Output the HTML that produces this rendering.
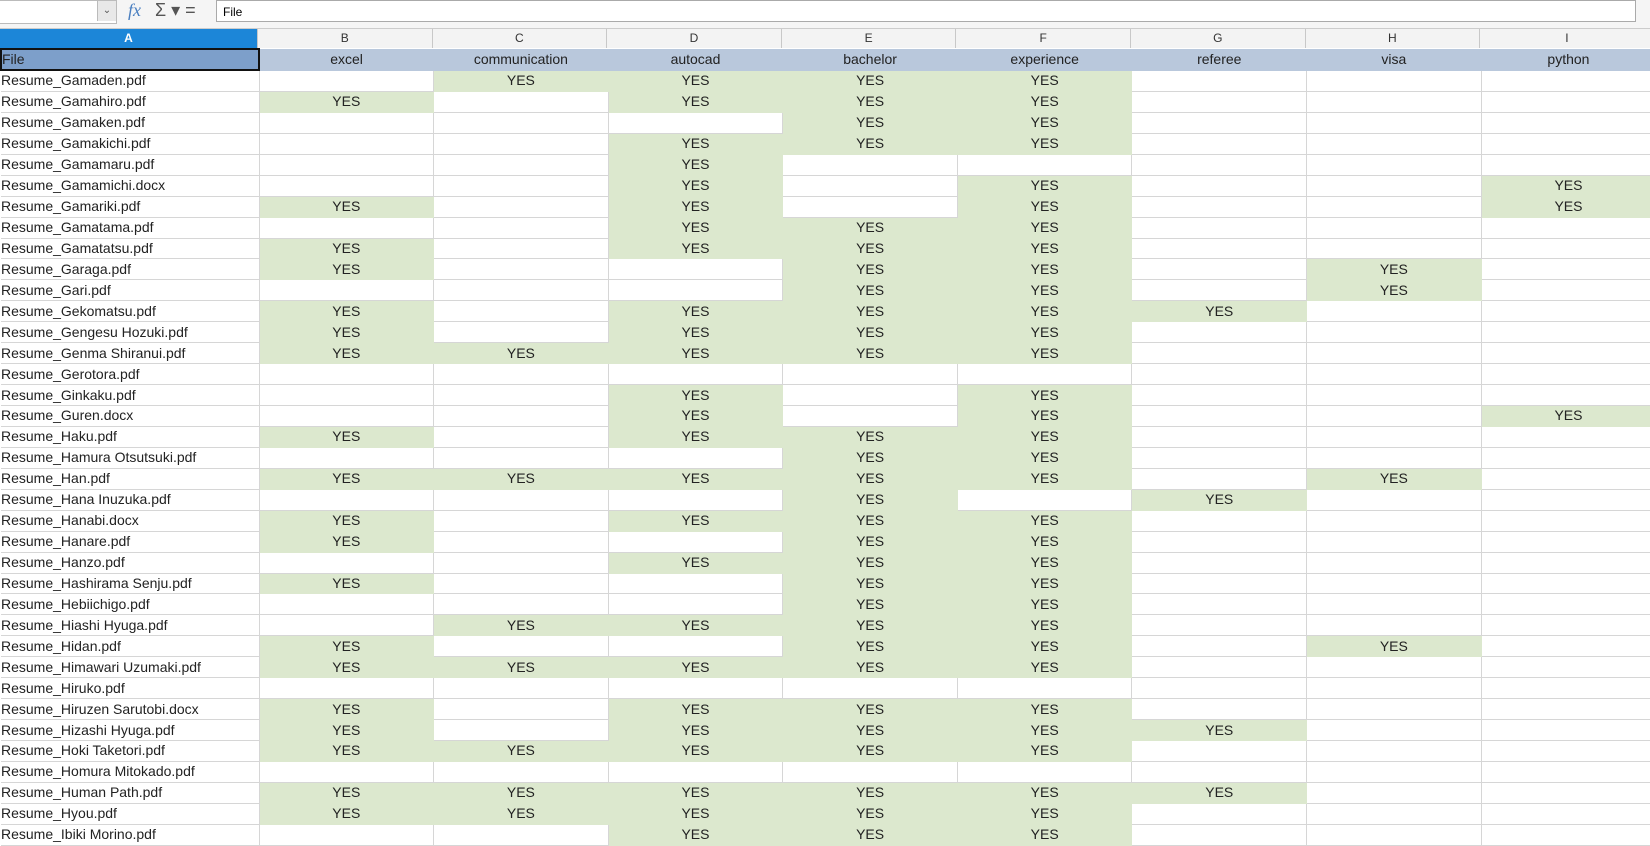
<!DOCTYPE html>
<html><head><meta charset="utf-8"><style>
body{margin:0;width:1650px;height:842px;overflow:hidden;background:#fff;font-family:"Liberation Sans",sans-serif;position:relative}
#fb{position:absolute;left:0;top:0;width:1650px;height:28px;background:#f5f5f5;border-bottom:1px solid #ccc}
#nb{position:absolute;left:0;top:0;width:116px;height:22px;background:#fff;border:1px solid #bbb;border-left:none}
#dd{position:absolute;left:97px;top:1px;width:18px;height:20px;background:#e8e8e8;border-left:1px solid #bbb;font-size:10px;text-align:center;line-height:20px;color:#555}
#ic{position:absolute;left:128px;top:0;font-size:18px;color:#4a7fc0;font-style:italic;font-family:"Liberation Serif",serif}
#ic2{position:absolute;left:155px;top:0;font-size:18px;color:#555}
#inp{position:absolute;left:216px;top:0;width:1420px;height:22px;background:#fff;border:1px solid #aaa;font-size:12px;line-height:22px;padding-left:6px;box-sizing:border-box}
#ch{position:absolute;left:0;top:29px;height:19px;width:1655px;display:flex;background:#f3f3f3;font-size:12px;color:#333}
#ch div{width:174.6px;text-align:center;line-height:19px;border-right:1px solid #c8c8c8;box-sizing:border-box}
#ch div.a{width:258px;background:#1c86d8;color:#fff;font-weight:bold}
table{position:absolute;left:0;top:48px;border-collapse:collapse;table-layout:fixed;width:1655px;font-size:14px;color:#222}
td{height:19.95px;padding:0;border:1px solid #d6d6d6;text-align:center;white-space:nowrap;overflow:hidden;line-height:19px}
td:first-child{text-align:left;border-left:none}
td.y{background:#dce8ce;border-color:#dce8ce}
tr.h td{background:#b9c8dc;border-color:#b9c8dc;height:19px}
tr.h td:first-child{background:#7d9fca;border:2px solid #111}
</style></head><body>
<div id="fb"><div id="nb"></div><div id="dd">&#8964;</div><div id="ic">fx</div><div id="ic2">&Sigma; &#9662; =</div><div id="inp">File</div></div>
<div id="ch"><div class="a">A</div><div>B</div><div>C</div><div>D</div><div>E</div><div>F</div><div>G</div><div>H</div><div>I</div></div>
<table>
<colgroup><col style="width:258px"><col span="8" style="width:174.6px"></colgroup>
<tr class="h"><td>File</td><td>excel</td><td>communication</td><td>autocad</td><td>bachelor</td><td>experience</td><td>referee</td><td>visa</td><td>python</td></tr>
<tr><td>Resume_Gamaden.pdf</td><td></td><td class=y>YES</td><td class=y>YES</td><td class=y>YES</td><td class=y>YES</td><td></td><td></td><td></td></tr>
<tr><td>Resume_Gamahiro.pdf</td><td class=y>YES</td><td></td><td class=y>YES</td><td class=y>YES</td><td class=y>YES</td><td></td><td></td><td></td></tr>
<tr><td>Resume_Gamaken.pdf</td><td></td><td></td><td></td><td class=y>YES</td><td class=y>YES</td><td></td><td></td><td></td></tr>
<tr><td>Resume_Gamakichi.pdf</td><td></td><td></td><td class=y>YES</td><td class=y>YES</td><td class=y>YES</td><td></td><td></td><td></td></tr>
<tr><td>Resume_Gamamaru.pdf</td><td></td><td></td><td class=y>YES</td><td></td><td></td><td></td><td></td><td></td></tr>
<tr><td>Resume_Gamamichi.docx</td><td></td><td></td><td class=y>YES</td><td></td><td class=y>YES</td><td></td><td></td><td class=y>YES</td></tr>
<tr><td>Resume_Gamariki.pdf</td><td class=y>YES</td><td></td><td class=y>YES</td><td></td><td class=y>YES</td><td></td><td></td><td class=y>YES</td></tr>
<tr><td>Resume_Gamatama.pdf</td><td></td><td></td><td class=y>YES</td><td class=y>YES</td><td class=y>YES</td><td></td><td></td><td></td></tr>
<tr><td>Resume_Gamatatsu.pdf</td><td class=y>YES</td><td></td><td class=y>YES</td><td class=y>YES</td><td class=y>YES</td><td></td><td></td><td></td></tr>
<tr><td>Resume_Garaga.pdf</td><td class=y>YES</td><td></td><td></td><td class=y>YES</td><td class=y>YES</td><td></td><td class=y>YES</td><td></td></tr>
<tr><td>Resume_Gari.pdf</td><td></td><td></td><td></td><td class=y>YES</td><td class=y>YES</td><td></td><td class=y>YES</td><td></td></tr>
<tr><td>Resume_Gekomatsu.pdf</td><td class=y>YES</td><td></td><td class=y>YES</td><td class=y>YES</td><td class=y>YES</td><td class=y>YES</td><td></td><td></td></tr>
<tr><td>Resume_Gengesu Hozuki.pdf</td><td class=y>YES</td><td></td><td class=y>YES</td><td class=y>YES</td><td class=y>YES</td><td></td><td></td><td></td></tr>
<tr><td>Resume_Genma Shiranui.pdf</td><td class=y>YES</td><td class=y>YES</td><td class=y>YES</td><td class=y>YES</td><td class=y>YES</td><td></td><td></td><td></td></tr>
<tr><td>Resume_Gerotora.pdf</td><td></td><td></td><td></td><td></td><td></td><td></td><td></td><td></td></tr>
<tr><td>Resume_Ginkaku.pdf</td><td></td><td></td><td class=y>YES</td><td></td><td class=y>YES</td><td></td><td></td><td></td></tr>
<tr><td>Resume_Guren.docx</td><td></td><td></td><td class=y>YES</td><td></td><td class=y>YES</td><td></td><td></td><td class=y>YES</td></tr>
<tr><td>Resume_Haku.pdf</td><td class=y>YES</td><td></td><td class=y>YES</td><td class=y>YES</td><td class=y>YES</td><td></td><td></td><td></td></tr>
<tr><td>Resume_Hamura Otsutsuki.pdf</td><td></td><td></td><td></td><td class=y>YES</td><td class=y>YES</td><td></td><td></td><td></td></tr>
<tr><td>Resume_Han.pdf</td><td class=y>YES</td><td class=y>YES</td><td class=y>YES</td><td class=y>YES</td><td class=y>YES</td><td></td><td class=y>YES</td><td></td></tr>
<tr><td>Resume_Hana Inuzuka.pdf</td><td></td><td></td><td></td><td class=y>YES</td><td></td><td class=y>YES</td><td></td><td></td></tr>
<tr><td>Resume_Hanabi.docx</td><td class=y>YES</td><td></td><td class=y>YES</td><td class=y>YES</td><td class=y>YES</td><td></td><td></td><td></td></tr>
<tr><td>Resume_Hanare.pdf</td><td class=y>YES</td><td></td><td></td><td class=y>YES</td><td class=y>YES</td><td></td><td></td><td></td></tr>
<tr><td>Resume_Hanzo.pdf</td><td></td><td></td><td class=y>YES</td><td class=y>YES</td><td class=y>YES</td><td></td><td></td><td></td></tr>
<tr><td>Resume_Hashirama Senju.pdf</td><td class=y>YES</td><td></td><td></td><td class=y>YES</td><td class=y>YES</td><td></td><td></td><td></td></tr>
<tr><td>Resume_Hebiichigo.pdf</td><td></td><td></td><td></td><td class=y>YES</td><td class=y>YES</td><td></td><td></td><td></td></tr>
<tr><td>Resume_Hiashi Hyuga.pdf</td><td></td><td class=y>YES</td><td class=y>YES</td><td class=y>YES</td><td class=y>YES</td><td></td><td></td><td></td></tr>
<tr><td>Resume_Hidan.pdf</td><td class=y>YES</td><td></td><td></td><td class=y>YES</td><td class=y>YES</td><td></td><td class=y>YES</td><td></td></tr>
<tr><td>Resume_Himawari Uzumaki.pdf</td><td class=y>YES</td><td class=y>YES</td><td class=y>YES</td><td class=y>YES</td><td class=y>YES</td><td></td><td></td><td></td></tr>
<tr><td>Resume_Hiruko.pdf</td><td></td><td></td><td></td><td></td><td></td><td></td><td></td><td></td></tr>
<tr><td>Resume_Hiruzen Sarutobi.docx</td><td class=y>YES</td><td></td><td class=y>YES</td><td class=y>YES</td><td class=y>YES</td><td></td><td></td><td></td></tr>
<tr><td>Resume_Hizashi Hyuga.pdf</td><td class=y>YES</td><td></td><td class=y>YES</td><td class=y>YES</td><td class=y>YES</td><td class=y>YES</td><td></td><td></td></tr>
<tr><td>Resume_Hoki Taketori.pdf</td><td class=y>YES</td><td class=y>YES</td><td class=y>YES</td><td class=y>YES</td><td class=y>YES</td><td></td><td></td><td></td></tr>
<tr><td>Resume_Homura Mitokado.pdf</td><td></td><td></td><td></td><td></td><td></td><td></td><td></td><td></td></tr>
<tr><td>Resume_Human Path.pdf</td><td class=y>YES</td><td class=y>YES</td><td class=y>YES</td><td class=y>YES</td><td class=y>YES</td><td class=y>YES</td><td></td><td></td></tr>
<tr><td>Resume_Hyou.pdf</td><td class=y>YES</td><td class=y>YES</td><td class=y>YES</td><td class=y>YES</td><td class=y>YES</td><td></td><td></td><td></td></tr>
<tr><td>Resume_Ibiki Morino.pdf</td><td></td><td></td><td class=y>YES</td><td class=y>YES</td><td class=y>YES</td><td></td><td></td><td></td></tr>
</table>
</body></html>
